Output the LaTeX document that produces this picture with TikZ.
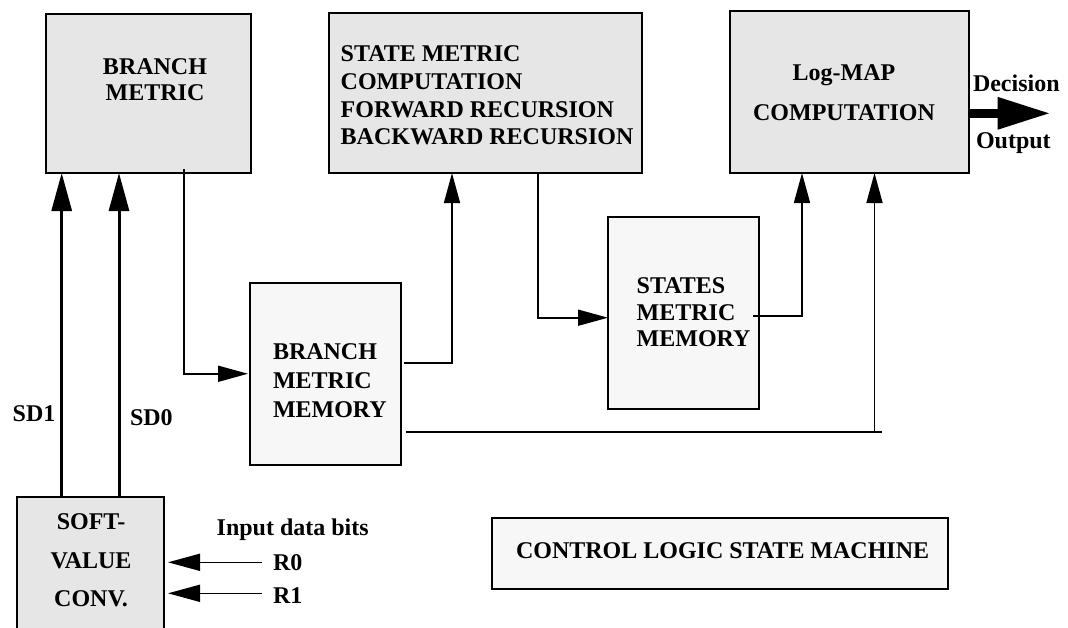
\documentclass[tikz,border=0pt]{standalone}
\usepackage{fontspec}
\setmainfont{Liberation Serif}
\usetikzlibrary{arrows.meta}
\definecolor{boxgray}{HTML}{E6E6E6}
\definecolor{memgray}{HTML}{F7F7F7}
\begin{document}
\begin{tikzpicture}[x=1pt,y=-1pt,
  block/.style={draw=black, line width=2pt, fill=boxgray, inner sep=0pt, outer sep=0pt},
  mem/.style={block, fill=memgray},
  lbl/.style={font=\bfseries\fontsize{24}{#1}\selectfont, inner sep=0pt, outer sep=0pt},
  lbl/.default=28,
  wire/.style={line width=1.6pt},
  flow/.style={line width=1.6pt, -{Triangle[length=30pt,width=16pt]}},
  sd/.style={line width=3pt, -{Triangle[length=38pt,width=20pt]}},
  inp/.style={line width=1.6pt, -{Triangle[length=32pt,width=17pt]}},
  outp/.style={line width=9pt, -{Triangle[length=53pt,width=30pt]}}]

\useasboundingbox (0,0) rectangle (1068,627);
\clip (0,0) rectangle (1068,627);

% processing blocks
\node[block, minimum width=205pt, minimum height=159pt] (bm)  at (148.5,93.5) {};
\node[block, minimum width=313pt, minimum height=160pt] (sm)  at (485.5,93) {};
\node[block, minimum width=239pt, minimum height=162pt] (lm)  at (849.5,92) {};
\node[mem,   minimum width=150.5pt, minimum height=181.5pt] (bmm) at (325.25,373.75) {};
\node[mem,   minimum width=151pt, minimum height=192pt] (smm) at (683.5,313) {};
\node[block, minimum width=147pt, minimum height=163pt] (sv)  at (90.5,578.5) {};
\node[mem,   minimum width=456.8pt, minimum height=71.8pt] (ctl) at (719.9,553.4) {};

% block texts
\node[lbl=26, align=center, anchor=north] (bmt) at (155,59) {BRANCH\\METRIC};
\node[lbl=27.7, align=left, anchor=north west] (smt) at (340.7,46)
  {STATE METRIC\\COMPUTATION\\FORWARD RECURSION\\BACKWARD RECURSION};
\node[lbl=40, align=center, anchor=north] (lmt) at (844,65) {Log-MAP\\COMPUTATION};
\node[lbl=29, align=left, anchor=north west] (bmmt) at (273,344) {BRANCH\\METRIC\\MEMORY};
\node[lbl=26.4, align=left, anchor=north west] (smmt) at (636.7,278) {STATES\\METRIC\\MEMORY};
\node[lbl=38.3, align=center, anchor=north] (svt) at (91,514) {SOFT-\\VALUE\\CONV.};
\node[lbl, anchor=base west] (ctlt) at (516,558.3) {CONTROL LOGIC STATE MACHINE};

% signal labels
\node[lbl, anchor=base west] (dec) at (973,91.7) {Decision};
\node[lbl, anchor=base west] (out) at (976,148) {Output};
\node[lbl, anchor=base west] (sd1) at (12.7,421.7) {SD1};
\node[lbl, anchor=base west] (sd0) at (130,425) {SD0};
\node[lbl, anchor=base west] (idb) at (216.7,535) {Input data bits};
\node[lbl, anchor=base west] (r0)  at (273,570) {R0};
\node[lbl, anchor=base west] (r1)  at (273,603.3) {R1};

% soft values into the branch metric unit
\draw[sd] ([xshift=44.7pt]sv.north west) -- ([xshift=44.7pt]sv.north west |- bm.south);
\draw[sd] ([xshift=102pt]sv.north west) -- ([xshift=102pt]sv.north west |- bm.south);

% data path
\draw[flow, shorten >=2pt] ([xshift=137.7pt,yshift=4pt]bm.south west) |- (bmm.west);
\draw[flow] ([xshift=3pt,yshift=10.7pt]bmm.east) -| ([xshift=123pt]sm.south west);
\draw[wire] ([xshift=5pt,yshift=-58pt]bmm.east) -- ++(476,0) coordinate (busend);
\draw[flow] ([xshift=-7pt]busend) -- ([xshift=-7pt]busend |- lm.south);
\draw[flow] ([xshift=209pt]sm.south west) |- ([yshift=-4.7pt]smm.west);
\draw[flow] ([xshift=-6pt,yshift=-2.7pt]smm.east) -| ([xshift=72pt]lm.south west);

% decision output
\draw[outp] ([yshift=-21.3pt]lm.east) -- ++(81.7,0) coordinate (decend);

% input data bits
\draw[inp] ([xshift=97.7pt,yshift=16.2pt]sv.east) -- ([xshift=4pt,yshift=16.2pt]sv.east);
\draw[inp] ([xshift=97.7pt,yshift=-14.8pt]sv.east) -- ([xshift=4pt,yshift=-14.8pt]sv.east);
\end{tikzpicture}
\end{document}
